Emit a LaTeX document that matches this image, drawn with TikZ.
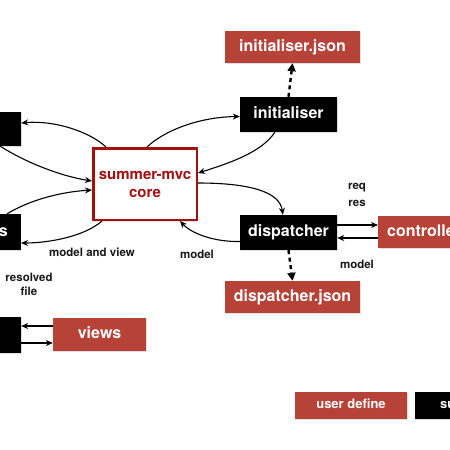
\documentclass[tikz,border=0pt]{standalone}
\usepackage{fontspec}
\setmainfont{TeX Gyre Heros}
\usetikzlibrary{arrows.meta,calc,shadows}
\definecolor{ured}{RGB}{182,66,56}
\definecolor{cred}{RGB}{163,16,16}
\begin{document}
\begin{tikzpicture}[x=1pt,y=-1pt,
  box/.style={rectangle, inner sep=0pt, font=\fontsize{16}{18}\selectfont\bfseries, text=white,
    text height=11.5pt, text depth=3.5pt,
    drop shadow={opacity=0.25,shadow xshift=0.6pt,shadow yshift=-1.2pt}},
  sys/.style={box, fill=black},
  usr/.style={box, fill=ured},
  small/.style={font=\fontsize{13}{15}\selectfont\bfseries, text height=9.5pt, text depth=3pt},
  arr/.style={-{Stealth[length=7pt,width=6pt]}, line width=1.1pt},
  dasharr/.style={-{Triangle[length=8pt,width=8pt]}, line width=2.4pt, dash pattern=on 4pt off 3.5pt},
  lbl/.style={font=\fontsize{11.5}{14}\selectfont\bfseries, text=black!90}
]
\useasboundingbox (0,0) rectangle (450,450);
\clip (0,0) rectangle (450,450);
\fill[white] (0,0) rectangle (450,450);

% nodes
\node[usr, minimum width=135pt, minimum height=32pt] (ijson) at (292.5,47) {initialiser.json};
\node[sys, minimum width=97pt, minimum height=35pt] (init) at (288.5,114.5) {initialiser};
\node[draw=cred, line width=2.5pt, fill=white, minimum width=103.5pt, minimum height=71.5pt,
  text=cred, font=\fontsize{15}{18}\selectfont\bfseries, align=center,
  drop shadow={opacity=0.2,shadow xshift=0pt,shadow yshift=-2pt}] (core) at (145,184) {summer-mvc\\core};
\node[sys, minimum width=81pt, minimum height=34pt] (tl) at (-19.5,129) {};
\node[sys, anchor=east, minimum height=36pt, inner xsep=13pt] (ml) at (21,232) {resolvers};
\node[sys, minimum width=81pt, minimum height=36pt] (bl) at (-19.5,335) {};
\node[usr, minimum width=93pt, minimum height=33pt] (views) at (99.5,334.5) {views};
\node[sys, minimum width=97pt, minimum height=35pt] (disp) at (288.5,232.5) {dispatcher};
\node[usr, anchor=west, minimum height=32pt, inner xsep=9pt] (ctrl) at (378,232) {controllers};
\node[usr, minimum width=135pt, minimum height=32pt] (djson) at (292.5,297) {dispatcher.json};
\node[usr, small, minimum width=112pt, minimum height=27pt] (udef) at (351,405.5) {user define};
\node[sys, small, anchor=west, minimum height=27pt, inner xsep=25pt] (sdef) at (415,405.5) {summer-mvc};

% connectors
\draw[arr] ($(core.north west)+(14,0)$) .. controls (90,132) and (55,120) .. ($(tl.east)+(0,-6)$);
\draw[arr] ($(tl.south east)+(-21,0)$) .. controls (25,162) and (60,176) .. ($(core.west)+(0,-3)$);
\draw[arr] ($(ml.north east)+(-14,0)$) .. controls (30,200) and (60,192) .. ($(core.west)+(0,6)$);
\draw[arr] ($(core.south west)+(10,0)$) .. controls (85,236) and (50,243) .. ($(ml.east)+(0,11)$);
\node[lbl] (lmv) at (92,252) {model and view};
\draw[arr] ($(core.north west)+(55,0)$) .. controls (165,130) and (200,117) .. ($(init.west)+(0,2)$);
\draw[arr] ($(init.south west)+(35,0)$) .. controls (262,152) and (230,163) .. ($(core.east)+(0,-11)$);
\draw[arr] ($(core.east)+(0,-1)$) .. controls (250,183) and (280,192) .. ($(disp.north west)+(43,0)$);
\draw[arr] ($(disp.west)+(0,9)$) .. controls (215,242) and (192,234) .. ($(core.south east)+(-18,0)$);
\node[lbl] (lm1) at (197,254) {model};
\draw[arr] ($(disp.east)+(0,-7.5)$) -- ($(ctrl.west)+(0,-7)$);
\draw[arr] ($(ctrl.west)+(0,6)$) -- ($(disp.east)+(0,5.5)$);
\node[lbl] (lreq) at (357,188) {req};
\node[lbl] (lres) at (357,203) {res};
\node[lbl] (lm2) at (357,264) {model};
\draw[dasharr] (init.north) -- (ijson.south);
\draw[dasharr] (disp.south) -- (djson.north);
\node[lbl, align=center] (rf) at (29,284) {resolved\\file};
\draw[arr] ($(views.west)+(0,-8.5)$) -- ($(bl.east)+(0,-9)$);
\draw[arr] ($(bl.east)+(0,8)$) -- ($(views.west)+(0,8.5)$);
\end{tikzpicture}
\end{document}
